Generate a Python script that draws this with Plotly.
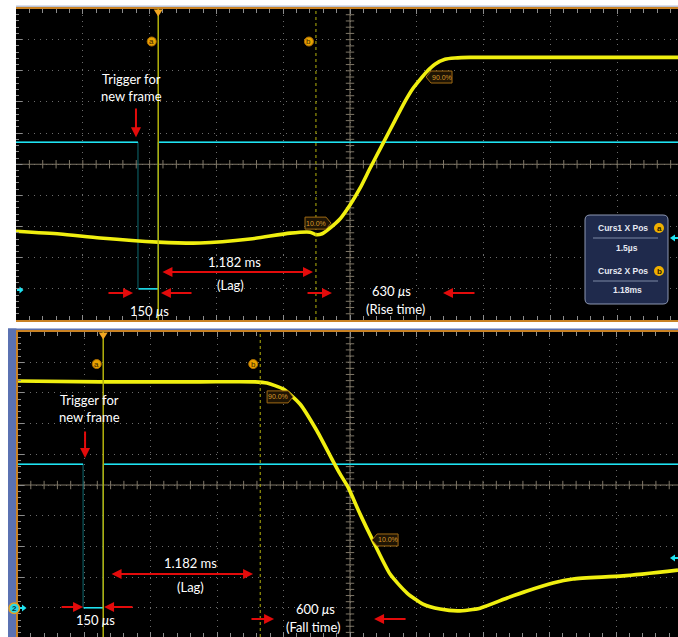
import numpy as np
import plotly.graph_objects as go

W, H = 678, 637

# ---------------- data (time in ms, amplitude in screen divisions) ----------------
# Upper capture: optical response, rising edge (CH1, yellow)
rise_t_ms = [-1.063, -0.734, -0.434, 0.0, 0.314, 0.689, 0.988, 1.138, 1.183, 1.228,
             1.287, 1.362, 1.437, 1.512, 1.587, 1.684, 1.774, 1.849, 1.909, 1.961,
             2.013, 2.073, 2.148, 2.223, 2.335, 2.934, 3.892]
rise_v_div = [-2.15, -2.24, -2.37, -2.50, -2.53, -2.40, -2.21, -2.18, -2.26, -2.23,
              -2.05, -1.76, -1.31, -0.77, -0.13, 0.67, 1.41, 2.02, 2.44, 2.72,
              2.98, 3.21, 3.37, 3.41, 3.43, 3.43, 3.43]

# Lower capture: optical response, falling edge (CH1, yellow)
fall_t_ms = [-0.643, -0.023, 0.729, 1.143, 1.233, 1.353, 1.481, 1.609, 1.729, 1.782,
             1.842, 1.932, 2.030, 2.158, 2.286, 2.406, 2.534, 2.669, 2.835, 3.038,
             3.188, 3.383, 3.534, 3.910, 4.323]
fall_v_div = [3.39, 3.36, 3.36, 3.36, 3.32, 3.13, 2.64, 1.76, 0.78, 0.36,
              -0.07, -0.94, -1.82, -2.90, -3.52, -3.88, -4.04, -4.10, -4.01, -3.68,
              -3.45, -3.19, -3.06, -2.96, -2.77]

# Trigger for new frame (CH2, cyan): 150 us low pulse
trig_fall_ms = -0.15
trig_rise_ms = 0.0
trig_hi_top = 0.71
trig_hi_bot = 0.68
trig_lo = -4.0

# Cursors
cursor_a_ms = 0.0015
cursor_b_ms = 1.182
readout_labels = ["Curs1 X Pos", "Curs2 X Pos"]
readout_values = ["1.5µs", "1.18ms"]

# Annotation texts
trig_text = "Trigger for<br>new frame"
lag_text = "1.182 ms"
lag_label = "(Lag)"
pulse_text = "150 <i>μ</i>s"
rise_text = "630 <i>μ</i>s"
rise_label = "(Rise time)"
fall_text = "600 <i>μ</i>s"
fall_label = "(Fall time)"
pct_labels = ["10.0%", "90.0%"]

# Screen windows
ms_per_div = 0.5
top_xr = [-1.063, 3.892]
bot_xr = [-0.643, 4.323]
top_yr = [-5.0, 5.0]
bot_yr = [-4.95, 5.0]

# ---------------- styling ----------------
YEL = "#f0ef10"
CYAN = "#1fe3f2"
TEAL = "#0d6a72"
CURS = "#b4b20c"
RED = "#e30b0b"
ORANGE_LINE = "#c98224"
GRID = "#6b6b6b"
CENTER = "#7f7767"
TICK = "#8c8c8c"
FONT = "Lato"


def pxx(x):
    return x / W


def pxy(y):
    return 1 - y / H


fig = go.Figure()

panels = [
    dict(xa="x", ya="y", xr=top_xr, yr=top_yr, hi=trig_hi_top, t=rise_t_ms, v=rise_v_div),
    dict(xa="x2", ya="y2", xr=bot_xr, yr=bot_yr, hi=trig_hi_bot, t=fall_t_ms, v=fall_v_div),
]

shapes = []
annos = []

for p in panels:
    xa, ya = p["xa"], p["ya"]
    x0, x1 = p["xr"]
    xc = x0 + 5 * ms_per_div
    # center graticule lines with ticks
    fig.add_trace(go.Scatter(x=[x0, x1], y=[0, 0], xaxis=xa, yaxis=ya, mode="lines",
                             line=dict(color=CENTER, width=1), hoverinfo="skip", showlegend=False))
    fig.add_trace(go.Scatter(x=[xc, xc], y=[-5, 5], xaxis=xa, yaxis=ya, mode="lines",
                             line=dict(color=CENTER, width=1), hoverinfo="skip", showlegend=False))
    xt = np.arange(x0 + 0.1, x1, 0.1)
    yt = np.arange(-5 + 0.2, 5, 0.2)
    fig.add_trace(go.Scatter(x=xt, y=np.zeros_like(xt), xaxis=xa, yaxis=ya, mode="markers",
                             marker=dict(symbol="line-ns", size=6, line=dict(color=CENTER, width=1)),
                             hoverinfo="skip", showlegend=False))
    fig.add_trace(go.Scatter(x=np.full_like(yt, xc), y=yt, xaxis=xa, yaxis=ya, mode="markers",
                             marker=dict(symbol="line-ew", size=6, line=dict(color=CENTER, width=1)),
                             hoverinfo="skip", showlegend=False))
    # CH2 trigger trace: dim edges + bright levels
    tx = [x0, trig_fall_ms, trig_fall_ms, trig_rise_ms, trig_rise_ms, x1]
    ty = [p["hi"], p["hi"], trig_lo, trig_lo, p["hi"], p["hi"]]
    fig.add_trace(go.Scatter(x=tx, y=ty, xaxis=xa, yaxis=ya, mode="lines",
                             line=dict(color=TEAL, width=1), hoverinfo="skip", showlegend=False))
    bx = [x0, trig_fall_ms, None, trig_fall_ms + 0.005, trig_rise_ms, None, trig_rise_ms + 0.008, x1]
    by = [p["hi"], p["hi"], None, trig_lo, trig_lo, None, p["hi"], p["hi"]]
    fig.add_trace(go.Scatter(x=bx, y=by, xaxis=xa, yaxis=ya, mode="lines",
                             line=dict(color=CYAN, width=1.5), hoverinfo="skip", showlegend=False))
    # CH1 optical response
    fig.add_trace(go.Scatter(x=p["t"], y=p["v"], xaxis=xa, yaxis=ya, mode="lines",
                             line=dict(color=YEL, width=3.6, shape="spline", smoothing=0.6),
                             hoverinfo="skip", showlegend=False))
    # cursors
    shapes.append(dict(type="line", xref=xa, yref=f"{ya} domain", x0=cursor_a_ms, x1=cursor_a_ms,
                       y0=0, y1=1, line=dict(color=CURS, width=1.5)))
    shapes.append(dict(type="line", xref=xa, yref=f"{ya} domain", x0=cursor_b_ms, x1=cursor_b_ms,
                       y0=0, y1=1, line=dict(color=CURS, width=1, dash="3px,3px")))
    shapes.append(dict(type="path", xref=xa, yref=f"{ya} domain", xsizemode="pixel", ysizemode="pixel",
                       xanchor=cursor_a_ms, yanchor=1, path="M -4.5,-1 L 4.5,-1 L 0,-8 Z",
                       fillcolor="#f2a622", line=dict(width=0)))
    for cx, lab, off in [(cursor_a_ms, "a", -6.5), (cursor_b_ms, "b", -7)]:
        shapes.append(dict(type="circle", xref=xa, yref=ya, xsizemode="pixel", ysizemode="pixel",
                           xanchor=cx, yanchor=3.94, x0=off - 4.5, x1=off + 4.5, y0=-4.5, y1=4.5,
                           fillcolor="#e8a200", line=dict(color="#b07000", width=1)))
        annos.append(dict(x=cx, y=3.94, xref=xa, yref=ya, xshift=off, text=lab, showarrow=False,
                          font=dict(family="Arial", size=8, color="#3a2600")))


# ---------------- percent labels ----------------
def pct_label(xa, ya, x, y, text, tip):
    if tip == "right":
        path = "M 0,0 L -5,6 L -26,6 L -26,-6 L -5,-6 Z"
        sh = -15.5
    else:
        path = "M 0,0 L 5,6 L 26,6 L 26,-6 L 5,-6 Z"
        sh = 15.5
    shapes.append(dict(type="path", xref=xa, yref=ya, xsizemode="pixel", ysizemode="pixel",
                       xanchor=x, yanchor=y, path=path, fillcolor="#1e1404",
                       line=dict(color="#a06a14", width=1)))
    annos.append(dict(x=x, y=y, xref=xa, yref=ya, xshift=sh, text=text, showarrow=False,
                      font=dict(family="Arial", size=7, color="#d89a2a")))


pct_label("x", "y", 1.295, -1.89, pct_labels[0], "right")
pct_label("x", "y", 2.006, 2.80, pct_labels[1], "left")
pct_label("x2", "y2", 1.429, 2.87, pct_labels[1], "right")
pct_label("x2", "y2", 2.023, -1.79, pct_labels[0], "left")


# ---------------- text and red arrows ----------------
def txt(xa, ya, x, y, t):
    annos.append(dict(x=x, y=y, xref=xa, yref=ya, text=t, showarrow=False, xanchor="center",
                      font=dict(family=FONT, size=13, color="white")))


def arrow(xa, ya, xs, ys, xe, ye, both=False):
    annos.append(dict(x=xe, y=ye, ax=xs, ay=ys, xref=xa, yref=ya, axref=xa, ayref=ya, text="",
                      showarrow=True, arrowhead=2, arrowsize=1, arrowwidth=2, arrowcolor=RED,
                      arrowside="end+start" if both else "end", standoff=0, startstandoff=0))


# top panel
txt("x", "y", -0.202, 2.48, trig_text)
arrow("x", "y", -0.165, 1.84, -0.165, 0.87)
txt("x", "y", 0.576, -3.14, lag_text)
arrow("x", "y", 0.022, -3.46, 1.160, -3.46, both=True)
txt("x", "y", 0.546, -3.87, lag_label)
arrow("x", "y", -0.382, -4.13, -0.187, -4.13)
arrow("x", "y", 0.262, -4.13, 0.022, -4.13)
arrow("x", "y", 1.108, -4.13, 1.302, -4.13)
arrow("x", "y", 2.380, -4.13, 2.133, -4.13)
txt("x", "y", -0.067, -4.71, pulse_text)
txt("x", "y", 1.751, -4.07, rise_text)
txt("x", "y", 1.781, -4.65, rise_label)

# bottom panel
txt("x2", "y2", -0.105, 2.49, trig_text)
arrow("x2", "y2", -0.135, 1.79, -0.135, 0.88)
txt("x2", "y2", 0.654, -2.54, lag_text)
arrow("x2", "y2", 0.053, -2.90, 1.128, -2.90, both=True)
txt("x2", "y2", 0.654, -3.32, lag_label)
arrow("x2", "y2", -0.323, -3.97, -0.150, -3.97)
arrow("x2", "y2", 0.233, -3.97, 0.008, -3.97)
txt("x2", "y2", -0.053, -4.40, pulse_text)
arrow("x2", "y2", 1.105, -4.36, 1.286, -4.36)
txt("x2", "y2", 1.594, -4.04, fall_text)
txt("x2", "y2", 1.586, -4.63, fall_label)
arrow("x2", "y2", 2.286, -4.36, 2.038, -4.36)

# ---------------- frame decorations (paper coords) ----------------
shapes.append(dict(type="rect", xref="paper", yref="paper", x0=pxx(16), x1=1, y0=pxy(7.5), y1=pxy(5.5),
                   fillcolor="#b9c2d8", line=dict(width=0), layer="below"))
shapes.append(dict(type="rect", xref="paper", yref="paper", x0=pxx(8), x1=1, y0=pxy(330.5), y1=pxy(328.5),
                   fillcolor="#5b72b2", line=dict(width=0), layer="below"))
shapes.append(dict(type="rect", xref="paper", yref="paper", x0=pxx(8), x1=pxx(16.5), y0=0, y1=pxy(328.5),
                   fillcolor="#5b72b2", line=dict(width=0), layer="below"))


def ppath(pts, close=True):
    s = "M " + " L ".join(f"{pxx(a):.5f},{pxy(b):.5f}" for a, b in pts)
    return s + (" Z" if close else "")


# trigger level markers (right edge) and CH2 ground markers (left edge)
for yy in (238, 558):
    shapes.append(dict(type="path", xref="paper", yref="paper",
                       path=ppath([(670, yy), (675, yy - 3.5), (675, yy - 1), (678, yy - 1), (678, yy + 1),
                                   (675, yy + 1), (675, yy + 3.5)]),
                       fillcolor=CYAN, line=dict(width=0)))
shapes.append(dict(type="path", xref="paper", yref="paper",
                   path=ppath([(17, 289), (19.5, 289), (19.5, 286.5), (23.5, 290), (19.5, 293.5), (19.5, 291), (17, 291)]),
                   fillcolor=CYAN, line=dict(width=0)))
shapes.append(dict(type="path", xref="paper", yref="paper",
                   path=ppath([(19, 607), (22, 607), (22, 604.5), (26.5, 608), (22, 611.5), (22, 609), (19, 609)]),
                   fillcolor=CYAN, line=dict(width=0)))
shapes.append(dict(type="circle", xref="paper", yref="paper", x0=pxx(9), x1=pxx(19.5), y0=pxy(613.5), y1=pxy(603),
                   fillcolor="#28d8e6", line=dict(color="#e8a020", width=1.5)))
annos.append(dict(x=pxx(14.3), y=pxy(608.3), xref="paper", yref="paper", text="<b>2</b>", showarrow=False,
                  xanchor="center", yanchor="middle",
                  font=dict(family="Arial", size=8, color="#06323a")))

# cursor readout box
bx0, bx1, by0, by1, r = 585, 668, 215, 304, 5
box = (f"M {pxx(bx0 + r)},{pxy(by0)} L {pxx(bx1 - r)},{pxy(by0)} Q {pxx(bx1)},{pxy(by0)} {pxx(bx1)},{pxy(by0 + r)} "
       f"L {pxx(bx1)},{pxy(by1 - r)} Q {pxx(bx1)},{pxy(by1)} {pxx(bx1 - r)},{pxy(by1)} "
       f"L {pxx(bx0 + r)},{pxy(by1)} Q {pxx(bx0)},{pxy(by1)} {pxx(bx0)},{pxy(by1 - r)} "
       f"L {pxx(bx0)},{pxy(by0 + r)} Q {pxx(bx0)},{pxy(by0)} {pxx(bx0 + r)},{pxy(by0)} Z")
shapes.append(dict(type="path", xref="paper", yref="paper", path=box, fillcolor="#1f2a4c",
                   line=dict(color="#8d97b2", width=1)))
for i, (lab, val) in enumerate(zip(readout_labels, readout_values)):
    yl = 228 + 43 * i
    annos.append(dict(x=pxx(650), y=pxy(yl), xref="paper", yref="paper", text=f"<b>{lab}</b>",
                      showarrow=False, xanchor="right", yanchor="middle",
                      font=dict(family="Arial", size=8.5, color="#e6e9f2")))
    shapes.append(dict(type="circle", xref="paper", yref="paper", x0=pxx(654), x1=pxx(664),
                       y0=pxy(yl + 5), y1=pxy(yl - 5), fillcolor="#f0b000", line=dict(width=0)))
    annos.append(dict(x=pxx(659), y=pxy(yl), xref="paper", yref="paper", text="<b>" + "ab"[i] + "</b>",
                      showarrow=False, xanchor="center", yanchor="middle",
                      font=dict(family="Arial", size=8, color="#2a2000")))
    shapes.append(dict(type="line", xref="paper", yref="paper", x0=pxx(593), x1=pxx(658),
                       y0=pxy(yl + 10), y1=pxy(yl + 10), line=dict(color="#7d88a4", width=1)))
    annos.append(dict(x=pxx(627), y=pxy(yl + 19.5), xref="paper", yref="paper", text=f"<b>{val}</b>",
                      showarrow=False, xanchor="center", yanchor="middle",
                      font=dict(family="Arial", size=8.5, color="#e6e9f2")))


def xaxis(dom, rng, anchor):
    return dict(domain=dom, range=rng, anchor=anchor, tick0=rng[0], dtick=ms_per_div,
                showgrid=True, gridcolor=GRID, griddash="1px,5px", gridwidth=1,
                ticks="inside", ticklen=5, tickcolor=TICK, showticklabels=False,
                showline=True, linecolor=ORANGE_LINE, linewidth=2, mirror="ticks", zeroline=False,
                minor=dict(dtick=ms_per_div / 5, tick0=rng[0], ticks="inside", ticklen=4,
                           tickcolor=TICK, showgrid=False),
                fixedrange=True)


def yaxis(dom, rng, anchor, line):
    return dict(domain=dom, range=rng, anchor=anchor, tick0=-5, dtick=1,
                showgrid=True, gridcolor=GRID, griddash="1px,5px", gridwidth=1,
                ticks="inside", ticklen=6, tickcolor=TICK, showticklabels=False,
                showline=line, linecolor=ORANGE_LINE, linewidth=2, mirror=False, zeroline=False,
                minor=dict(dtick=0.2, tick0=-5, ticks="inside", ticklen=3, tickcolor=TICK, showgrid=False),
                fixedrange=True)


fig.update_layout(
    width=W, height=H, autosize=False,
    margin=dict(l=0, r=0, t=0, b=0, autoexpand=False),
    paper_bgcolor="white", plot_bgcolor="black",
    showlegend=False,
    xaxis=xaxis([pxx(16), 1], top_xr, "y"),
    yaxis=yaxis([pxy(320), pxy(8.5)], top_yr, "x", False),
    xaxis2=xaxis([pxx(17.5), 1], bot_xr, "y2"),
    yaxis2=yaxis([0, pxy(331.5)], bot_yr, "x2", True),
    shapes=shapes,
    annotations=annos,
)

fig.write_html("out.html", config={"responsive": False, "displayModeBar": False},
               post_script="document.body.style.margin='0';document.body.style.overflow='hidden';")
